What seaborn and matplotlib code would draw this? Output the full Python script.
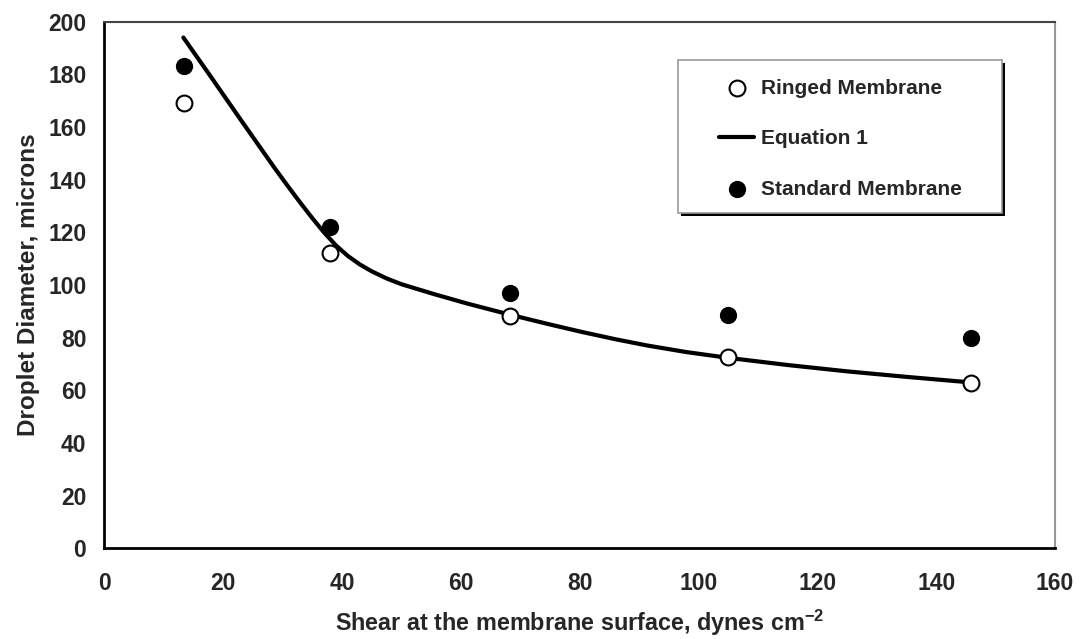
import matplotlib
matplotlib.use("Agg")
import matplotlib.pyplot as plt
import seaborn as sns
from matplotlib.patches import Rectangle

# data
shear_pts = [13.4, 38.0, 68.3, 105.0, 145.8]
ringed = [169.0, 112.1, 88.3, 72.8, 62.9]
standard = [183.2, 122.1, 97.1, 88.6, 79.8]

# Equation 1 curve
eq_x = [13.3, 17.5, 23.1, 28.7, 31.0, 33.0, 35.0, 37.0, 39.0, 41.0, 43.0, 45.0,
        47.5, 50.0, 55.4, 61.0, 68.3, 75.0, 80.1, 86.0, 91.4, 98.0, 105.1,
        115.0, 125.0, 135.0, 145.8]
eq_y = [194.0, 180.5, 162.3, 144.3, 137.2, 131.2, 125.4, 119.9, 115.0, 111.0, 107.8, 105.2,
        102.5, 100.3, 96.6, 93.0, 88.7, 85.0, 82.3, 79.4, 77.0, 74.5, 72.3,
        69.6, 67.2, 65.1, 63.0]

x_ticks = [0, 20, 40, 60, 80, 100, 120, 140, 160]
y_ticks = [0, 20, 40, 60, 80, 100, 120, 140, 160, 180, 200]

sns.set_style("white")
plt.rcParams['font.family'] = ['Liberation Sans', 'DejaVu Sans']
plt.rcParams['font.weight'] = 'bold'
plt.rcParams['mathtext.fontset'] = 'custom'
plt.rcParams['mathtext.rm'] = 'Liberation Sans'
plt.rcParams['mathtext.bf'] = 'Liberation Sans:bold'

fig = plt.figure(figsize=(10.81, 6.39), dpi=100)
ax = fig.add_axes([0.0965, 0.142, 0.8795, 0.824])

sns.lineplot(x=eq_x, y=eq_y, ax=ax, color='black', linewidth=3,
             label='Equation 1', zorder=2)
sns.scatterplot(x=shear_pts, y=ringed, ax=ax, color='white', edgecolor='black',
                linewidth=1.5, s=130, label='Ringed Membrane', zorder=3)
sns.scatterplot(x=shear_pts, y=standard, ax=ax, color='black', edgecolor='black',
                linewidth=1.0, s=130, label='Standard Membrane', zorder=3)

ax.set_xlim(0, 160)
ax.set_ylim(0, 200)
ax.set_xticks(x_ticks)
ax.set_yticks(y_ticks)
ax.tick_params(axis='both', direction='out', length=5, width=1, color='#888888',
               labelsize=16.5)
ax.tick_params(axis='x', pad=12)
ax.tick_params(axis='y', pad=8)
for lab in ax.get_xticklabels() + ax.get_yticklabels():
    lab.set_fontweight('bold')

for side in ['left', 'bottom']:
    ax.spines[side].set_color('black')
    ax.spines[side].set_linewidth(2)
ax.spines['top'].set_color('#444444')
ax.spines['top'].set_linewidth(1.5)
ax.spines['right'].set_color('#999999')
ax.spines['right'].set_linewidth(1.5)

ax.set_xlabel('Shear at the membrane surface, dynes cm$^{\\mathbf{-2}}$',
              fontsize=16.8, fontweight='bold', labelpad=9)
ax.set_ylabel('Droplet Diameter, microns', fontsize=17.5, fontweight='bold',
              labelpad=6)

# legend box with a hard shadow
shadow = Rectangle((0.6062, 0.6303), 0.341, 0.291, transform=ax.transAxes,
                   facecolor='black', edgecolor='black', linewidth=0, zorder=4.9)
ax.add_patch(shadow)
box = Rectangle((0.603, 0.636), 0.341, 0.291, transform=ax.transAxes,
                facecolor='white', edgecolor='#999999', linewidth=1.2, zorder=5)
ax.add_patch(box)

handles, labels = ax.get_legend_handles_labels()
order = [labels.index(n) for n in ['Ringed Membrane', 'Equation 1', 'Standard Membrane']]
leg = ax.legend([handles[i] for i in order], [labels[i] for i in order],
                loc='upper left', bbox_to_anchor=(0.647, 0.892),
                frameon=False, fontsize=15, borderpad=0, borderaxespad=0,
                labelspacing=1.52, handlelength=1.68, handletextpad=0.3)
leg.set_zorder(6)
for t in leg.get_texts():
    t.set_fontweight('bold')

fig.savefig('out.png', dpi=100)
